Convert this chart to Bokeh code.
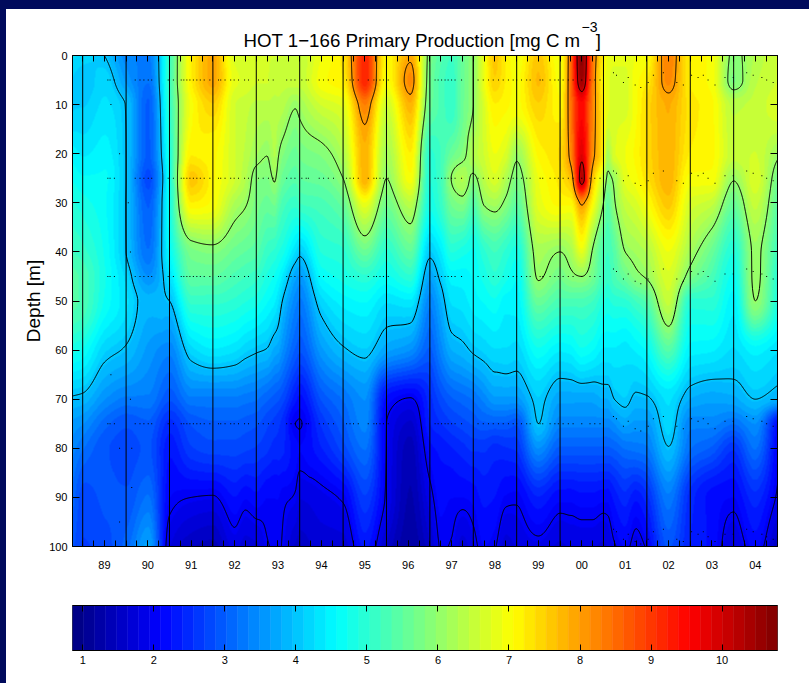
import numpy as np
from bokeh.embed import file_html
from bokeh.layouts import column
from bokeh.models import FixedTicker, LinearAxis, LinearColorMapper, Title
from bokeh.plotting import figure
from bokeh.resources import INLINE

FONT = "Liberation Sans"
NAVY = "#000a5c"

title_text = "HOT 1\u2212166 Primary Production [mg C m\u00a0\u00a0\u00a0]"
title_power = "\u22123"
year_labels = ["89", "90", "91", "92", "93", "94", "95", "96", "97", "98", "99", "00", "01", "02", "03", "04"]
year_starts = list(range(1989, 2005))
depth_ticks = [0, 10, 20, 30, 40, 50, 60, 70, 80, 90, 100]
bar_ticks = [1, 2, 3, 4, 5, 6, 7, 8, 9, 10]
contour_levels = [2, 4, 6, 8, 10]

depths = [0, 5, 10, 20, 25, 30, 40, 45, 50, 60, 70, 75, 80, 90, 100]
times = [1988.765, 1989.0, 1989.5, 1990.0, 1990.5, 1991.0, 1991.5, 1992.0, 1992.5, 1992.75, 1993.0, 1993.25,
         1993.42, 1993.5, 1993.6, 1993.9, 1994.0, 1994.5, 1995.0, 1995.5, 1996.0, 1996.55, 1997.0, 1997.25,
         1997.5, 1997.75, 1998.0, 1998.25, 1998.5, 1998.75, 1999.0, 1999.5, 2000.0, 2000.25, 2000.5, 2000.75,
         2001.0, 2001.1, 2001.25, 2001.5, 2001.75, 2002.0, 2002.5, 2003.0, 2003.5, 2004.0, 2004.5, 2005.01]

c88e = [4.3, 4.1, 4.1, 4.5, 4.7, 4.9, 5.2, 5.4, 5.4, 4.8, 3.95, 3.6, 3.4, 3.1, 2.9]
c89a = [4.2, 4.0, 4.1, 4.4, 4.6, 4.8, 5.1, 5.3, 5.3, 4.7, 3.9, 3.5, 3.2, 2.8, 2.7]
c89b = [4.0, 4.2, 4.3, 4.5, 4.6, 4.6, 4.7, 4.75, 4.7, 4.15, 3.5, 3.1, 2.9, 2.9, 2.8]
c90a = [3.4, 3.6, 3.98, 4.0, 4.0, 3.99, 4.0, 4.2, 4.3, 3.95, 3.3, 2.9, 2.8, 2.9, 3.1]
c90b = [3.3, 3.2, 3.0, 3.0, 2.8, 3.0, 3.2, 3.5, 3.85, 3.6, 3.3, 3.0, 2.9, 3.2, 3.7]
c91a = [5.2, 5.2, 5.1, 4.9, 4.8, 4.8, 4.6, 4.3, 4.0, 3.4, 2.9, 2.5, 2.3, 2.1, 1.8]
c91b = [7.2, 7.2, 7.0, 7.2, 7.6, 7.2, 5.75, 5.5, 5.1, 4.2, 3.3, 2.9, 2.7, 2.0, 1.5]
c92a = [7.9, 7.9, 7.5, 7.1, 7.1, 7.0, 5.85, 5.5, 5.1, 4.4, 3.3, 3.0, 2.8, 1.97, 1.4]
c92b = [6.7, 6.8, 6.6, 6.6, 6.6, 6.25, 5.6, 5.3, 5.0, 4.3, 3.3, 3.0, 2.8, 2.25, 1.85]
c92c = [6.65, 6.7, 6.5, 6.4, 6.3, 6.05, 5.5, 5.2, 4.9, 4.15, 3.25, 2.95, 2.75, 2.12, 1.7]
c93a = [6.6, 6.6, 6.4, 6.15, 5.85, 5.75, 5.4, 5.1, 4.8, 4.05, 3.2, 2.9, 2.7, 2.2, 1.75]
c93c = [6.6, 6.6, 6.4, 6.02, 5.8, 5.6, 5.1, 4.85, 4.6, 3.97, 3.05, 2.75, 2.6, 2.1, 1.98]
c93d = [6.6, 6.5, 6.4, 6.3, 6.05, 5.7, 5.0, 4.7, 4.45, 3.75, 2.95, 2.65, 2.5, 2.1, 2.03]
c93b = [6.6, 6.5, 6.4, 6.05, 5.85, 5.5, 4.9, 4.6, 4.3, 3.7, 2.9, 2.6, 2.5, 2.1, 2.05]
c93e = [6.6, 6.5, 6.35, 5.85, 5.6, 5.3, 4.8, 4.4, 4.0, 3.5, 2.8, 2.5, 2.45, 2.05, 1.98]
c93f = [6.5, 6.5, 6.05, 5.6, 5.4, 5.1, 4.25, 3.7, 3.4, 3.0, 2.3, 2.0, 2.15, 1.97, 1.6]
c94a = [6.5, 6.5, 6.15, 5.7, 5.5, 5.2, 4.1, 3.6, 3.3, 2.9, 2.2, 1.985, 2.1, 1.8, 1.55]
c94b = [6.9, 7.0, 6.6, 5.85, 5.6, 5.3, 4.9, 4.6, 4.2, 3.6, 2.9, 2.6, 2.4, 1.9, 1.7]
c95a = [7.3, 7.2, 6.8, 6.3, 6.0, 5.6, 5.0, 4.8, 4.5, 3.95, 3.2, 3.0, 2.8, 2.05, 1.7]
c95b = [9.2, 9.2, 8.3, 7.8, 7.8, 6.9, 5.6, 5.0, 4.6, 4.1, 3.5, 3.4, 3.2, 2.7, 2.3]
c96a = [7.1, 7.0, 6.6, 6.2, 6.0, 5.7, 5.0, 4.7, 4.3, 3.7, 2.2, 2.0, 1.99, 1.95, 1.6]
c96b = [7.9, 8.2, 7.8, 7.2, 7.0, 6.4, 5.5, 5.0, 4.4, 3.5, 1.97, 1.6, 1.4, 1.3, 1.2]
c97a = [5.8, 5.7, 5.6, 5.0, 4.9, 4.8, 4.1, 3.7, 3.4, 3.0, 2.5, 2.4, 2.2, 1.9, 1.6]
c97c = [5.4, 5.3, 5.3, 5.2, 5.2, 5.1, 4.4, 4.1, 3.8, 3.4, 2.8, 2.55, 2.3, 2.15, 2.02]
c97b = [5.2, 5.1, 5.1, 5.6, 6.02, 5.7, 4.9, 4.5, 4.3, 3.8, 3.0, 2.7, 2.4, 2.1, 1.98]
c97d = [5.6, 5.6, 5.6, 5.85, 6.3, 5.85, 4.8, 4.5, 4.35, 3.9, 3.1, 2.8, 2.5, 2.1, 1.7]
c98a = [6.0, 6.0, 6.0, 6.3, 5.9, 5.4, 4.7, 4.6, 4.5, 4.05, 3.2, 2.9, 2.6, 2.15, 1.9]
c98c = [6.9, 6.9, 6.7, 6.6, 6.4, 6.05, 5.0, 4.8, 4.6, 4.15, 3.4, 3.0, 2.6, 2.3, 2.1]
c98b = [7.6, 7.5, 7.2, 6.9, 6.7, 6.2, 5.2, 5.0, 4.7, 4.25, 3.6, 3.0, 2.5, 2.25, 2.02]
c98d = [7.2, 7.2, 7.1, 6.7, 6.3, 5.9, 5.0, 4.8, 4.5, 4.25, 3.6, 3.0, 2.55, 2.08, 1.7]
c99a = [6.9, 7.0, 7.0, 6.1, 5.8, 5.5, 4.8, 4.6, 4.5, 4.2, 3.6, 2.9, 2.6, 2.05, 1.8]
c99b = [7.6, 7.7, 7.5, 7.1, 6.9, 6.8, 6.2, 6.05, 5.6, 4.7, 4.1, 4.0, 3.5, 2.4, 1.9]
c00a = [6.9, 7.0, 7.1, 7.4, 7.3, 7.1, 6.0, 5.7, 5.3, 4.45, 3.7, 3.4, 3.0, 2.15, 1.75]
c00c = [8.5, 8.5, 8.4, 8.2, 7.7, 7.1, 6.2, 5.9, 5.3, 4.5, 3.7, 3.4, 3.0, 2.15, 1.8]
c00b = [10.7, 10.5, 9.5, 9.85, 10.3, 8.1, 6.8, 6.0, 5.3, 4.7, 3.7, 3.4, 3.0, 2.2, 1.8]
c00d = [8.5, 8.4, 8.3, 8.2, 7.7, 7.1, 5.95, 5.7, 5.2, 4.6, 3.7, 3.4, 3.0, 2.2, 1.8]
c01a = [7.2, 7.1, 7.2, 7.2, 6.5, 6.0, 5.3, 5.2, 4.9, 4.4, 3.8, 3.4, 3.0, 2.15, 1.75]
c01c = [6.9, 6.8, 6.8, 6.2, 5.9, 5.5, 5.2, 5.1, 4.85, 4.4, 3.8, 3.4, 3.0, 2.15, 1.8]
c01d = [6.8, 6.7, 6.7, 6.7, 6.1, 5.95, 5.4, 5.3, 4.95, 4.4, 4.0, 3.5, 3.05, 2.3, 1.97]
c01b = [6.8, 6.7, 6.7, 6.9, 6.8, 6.5, 6.0, 5.6, 5.0, 4.35, 4.1, 3.7, 3.2, 2.5, 2.1]
c01e = [6.9, 7.0, 7.0, 7.1, 7.0, 6.7, 6.15, 5.9, 5.2, 4.45, 3.92, 3.6, 3.25, 2.3, 1.85]
c02a = [7.0, 7.2, 7.4, 7.4, 7.3, 7.0, 6.3, 6.05, 5.4, 4.6, 3.95, 3.6, 3.3, 2.5, 2.05]
c02b = [8.3, 8.2, 7.85, 7.8, 7.8, 7.6, 6.9, 6.7, 6.5, 5.4, 4.3, 4.2, 3.98, 3.3, 2.9]
c03a = [7.2, 7.2, 7.3, 7.2, 7.0, 6.7, 6.2, 5.8, 5.0, 4.5, 3.8, 3.4, 3.2, 2.5, 2.4]
c03b = [7.0, 7.0, 7.1, 7.1, 7.0, 6.5, 5.6, 5.3, 5.0, 4.45, 3.7, 3.4, 3.0, 2.2, 2.2]
c04a = [5.9, 5.8, 6.4, 6.5, 6.05, 5.6, 4.9, 4.7, 4.5, 4.25, 3.75, 3.2, 2.6, 2.1, 1.8]
c04b = [6.3, 6.4, 6.5, 6.6, 6.7, 6.5, 6.1, 6.1, 6.0, 4.5, 4.0, 3.5, 3.2, 2.5, 2.15]
c05a = [6.6, 6.6, 6.7, 6.1, 5.7, 5.5, 5.2, 5.0, 4.9, 4.3, 3.8, 2.2, 2.1, 1.95, 1.5]

sample_depths = [5, 25, 45, 75]
early_samples = [1989.58, 1989.63, 1989.73, 1990.21, 1990.32, 1990.41, 1990.51, 1990.59, 1990.97, 1991.09,
                 1991.27, 1991.33, 1991.40, 1991.47, 1991.55, 1991.63, 1991.71, 1991.80, 1991.93, 1992.13,
                 1992.18, 1992.28, 1992.41, 1992.49, 1992.59, 1992.73, 1992.82, 1993.05, 1993.16, 1993.28,
                 1993.39, 1993.70, 1993.80, 1993.89, 1994.05, 1994.15, 1994.20, 1994.45, 1994.55, 1994.66,
                 1994.78, 1995.08, 1995.16, 1995.24, 1995.35, 1995.58, 1995.71, 1995.77, 1995.85, 1995.93,
                 1996.04, 1997.12, 1997.19, 1997.27, 1997.35, 1997.42, 1997.50, 1997.58, 1997.73, 1998.11,
                 1998.23, 1998.35, 1998.46, 1998.58, 1998.69, 1998.81, 1998.92, 1999.0, 1999.11, 1999.23,
                 1999.31, 1999.54, 1999.60, 1999.77, 1999.88, 1999.96, 2000.07, 2000.19, 2000.30, 2000.50,
                 2000.69, 2000.80, 2000.92]
late_samples = [2001.23, 2001.30, 2001.46, 2001.57, 2001.73, 2001.86, 2002.03, 2002.15, 2002.38, 2002.69,
                2002.84, 2003.03, 2003.18, 2003.30, 2003.41, 2003.57, 2003.80, 2003.99, 2004.30, 2004.45,
                2004.65, 2004.76, 2004.91]
late_offsets = [-1.5, -1, 0.5, -0.5, 1, 1.5, 0.5, -1, -1.5, 0.5, 1, -1, -0.5, -1, 0, 1, -0.5, -0.5, -1.5, -1, -0.5, 0, 0.5]
stray_times = [1989.65, 1989.85, 1990.05, 1989.65, 1990.1, 1989.85, 1990.13, 1989.85, 1990.1, 1990.13]
stray_depths = [10, 20, 30, 65, 70, 80, 80, 95, 40, 88]


def jet(n):
    t = (np.arange(n) + 0.5) / n
    r = np.clip(np.minimum(4 * t - 1.5, 4.5 - 4 * t), 0, 1)
    g = np.clip(np.minimum(4 * t - 0.5, 3.5 - 4 * t), 0, 1)
    b = np.clip(np.minimum(4 * t + 0.5, 2.5 - 4 * t), 0, 1)
    return ["#%02x%02x%02x" % (int(a * 255), int(c * 255), int(d * 255)) for a, c, d in zip(r, g, b)]


def smooth(xn, yn, xq):
    """Shape-preserving cubic through the read values, to draw the surface without facets."""
    xn, yn = np.asarray(xn, float), np.asarray(yn, float)
    h = np.diff(xn)
    s = np.diff(yn) / h
    m = np.zeros_like(yn)
    for i in range(1, len(xn) - 1):
        if s[i - 1] * s[i] > 0:
            w1, w2 = 2 * h[i] + h[i - 1], h[i] + 2 * h[i - 1]
            m[i] = (w1 + w2) / (w1 / s[i - 1] + w2 / s[i])
    m[0], m[-1] = s[0], s[-1]
    k = np.clip(np.searchsorted(xn, xq) - 1, 0, len(h) - 1)
    t = (xq - xn[k]) / h[k]
    return ((2 * t ** 3 - 3 * t ** 2 + 1) * yn[k] + (t ** 3 - 2 * t ** 2 + t) * h[k] * m[k]
            + (-2 * t ** 3 + 3 * t ** 2) * yn[k + 1] + (t ** 3 - t ** 2) * h[k] * m[k + 1])


palette = jet(64)
bar_low, bar_high = 0.855, 10.78
bands = np.linspace(bar_low, bar_high, 65)
field = np.array([c88e, c89a, c89b, c90a, c90b, c91a, c91b, c92a, c92b, c92c, c93a, c93c, c93d, c93b, c93e, c93f,
                  c94a, c94b, c95a, c95b, c96a, c96b, c97a, c97c, c97b, c97d, c98a, c98c, c98b, c98d, c99a, c99b,
                  c00a, c00c, c00b, c00d, c01a, c01c, c01d, c01b, c01e, c02a, c02b, c03a, c03b, c04a, c04b, c05a]).T
fine_t = np.linspace(times[0], times[-1], 705)
fine_d = np.linspace(0, 100, 491)
across = np.array([smooth(times, row, fine_t) for row in field])
surface = np.array([smooth(depths, across[:, j], fine_d) for j in range(len(fine_t))]).T

p = figure(width=803, height=581, x_range=(times[0], times[-1]), y_range=(100, 0),
           output_backend="svg", toolbar_location=None, x_axis_location=None, y_axis_location=None,
           min_border_left=66, min_border_right=32, min_border_top=46, min_border_bottom=44,
           border_fill_color="white", outline_line_color="black")
p.grid.visible = False
p.title = None

mapper = LinearColorMapper(palette=palette, low=bar_low, high=bar_high)
p.image(image=[surface], x=times[0], y=0, dw=times[-1] - times[0], dh=100, color_mapper=mapper)
p.contour(fine_t, fine_d, surface, levels=contour_levels, fill_color=None, line_color="black", line_width=1)
p.segment(x0=year_starts, y0=[0] * len(year_starts), x1=year_starts, y1=[100] * len(year_starts),
          line_color="black", line_width=1)

dot_x, dot_y = [], []
for d in sample_depths:
    dot_x += early_samples + late_samples
    dot_y += [d] * len(early_samples) + [d + o for o in late_offsets]
dot_x += late_samples + stray_times
dot_y += [98 + o for o in late_offsets] + stray_depths
p.scatter(dot_x, dot_y, marker="square", size=1, color="black", line_color=None)

quarters = [1988.75 + 0.25 * i for i in range(1, 66)]
mids = [y + 0.5 for y in year_starts]
year_map = dict(zip(mids, year_labels))


def style(ax, tick):
    ax.major_tick_in = tick
    ax.major_tick_out = 0
    ax.minor_tick_in = tick
    ax.minor_tick_out = 0
    ax.axis_line_color = "black"
    ax.major_tick_line_color = "black"
    ax.minor_tick_line_color = "black"
    ax.major_label_text_font = FONT
    ax.major_label_text_font_size = "11px"
    ax.major_label_text_color = "black"


bottom = LinearAxis(ticker=FixedTicker(ticks=mids, minor_ticks=quarters), major_label_overrides=year_map,
                    major_label_standoff=14)
top = LinearAxis(ticker=FixedTicker(ticks=[], minor_ticks=quarters))
left = LinearAxis(ticker=FixedTicker(ticks=depth_ticks), axis_label="Depth [m]", axis_label_standoff=2,
                  major_label_standoff=5)
right = LinearAxis(ticker=FixedTicker(ticks=[], minor_ticks=depth_ticks))
for ax, side, tick in [(bottom, "below", 6), (top, "above", 6), (left, "left", 7), (right, "right", 7)]:
    style(ax, tick)
    p.add_layout(ax, side)
left.axis_label_text_font = FONT
left.axis_label_text_font_size = "19px"
left.axis_label_text_font_style = "normal"
left.axis_label_text_color = "black"

p.add_layout(Title(text=title_text, align="left", offset=171, text_font=FONT, text_font_size="18.7px",
                   text_font_style="normal", text_color="black"), "above")
p.add_layout(Title(text=title_power, align="left", offset=509, text_font=FONT, text_font_size="14px",
                   text_font_style="normal", text_color="black", standoff=-19), "above")

cb = figure(width=803, height=93, x_range=(bar_low, bar_high), y_range=(0, 1), output_backend="svg",
            toolbar_location=None, x_axis_location=None, y_axis_location=None,
            min_border_left=66, min_border_right=32, min_border_top=15, min_border_bottom=33,
            border_fill_color="white", outline_line_color="#444444")
cb.grid.visible = False
cb.quad(left=bands[:-1], right=bands[1:], bottom=0, top=1, fill_color=palette, line_color=palette, line_width=0.5)
cb_bottom = LinearAxis(ticker=FixedTicker(ticks=bar_ticks), major_label_standoff=5)
cb_top = LinearAxis(ticker=FixedTicker(ticks=[], minor_ticks=bar_ticks))
for ax, side in [(cb_bottom, "below"), (cb_top, "above")]:
    style(ax, 6)
    cb.add_layout(ax, side)

page = column(p, cb, spacing=0, styles={"position": "absolute", "left": "0px", "top": "0px", "background": "white",
                                        "border-left": f"6px solid {NAVY}", "border-top": f"9px solid {NAVY}"})
open("out.html", "w").write(file_html(page, INLINE))
